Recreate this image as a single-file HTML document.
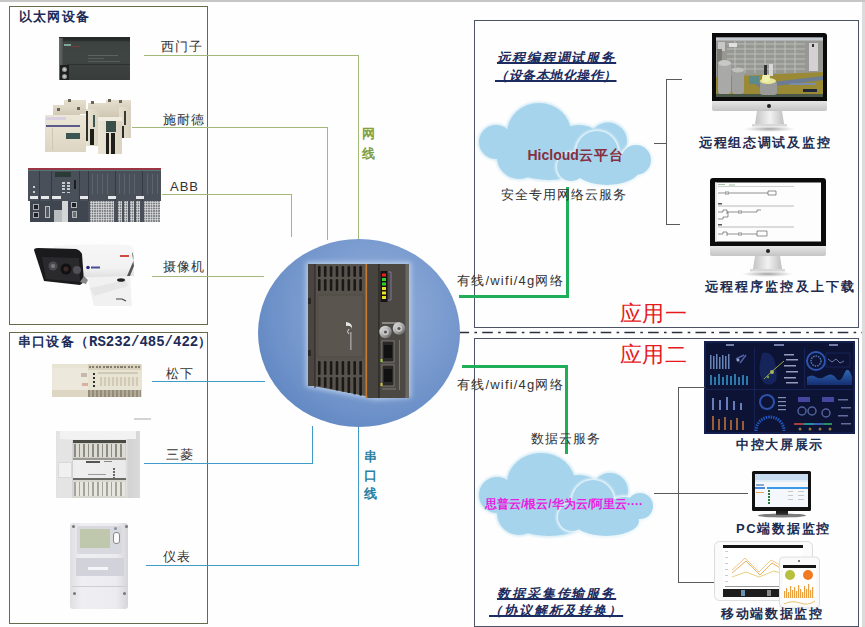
<!DOCTYPE html>
<html><head><meta charset="utf-8">
<style>
html,body{margin:0;padding:0;}
body{width:865px;height:627px;position:relative;overflow:hidden;background:#fefefe;font-family:"Liberation Sans",sans-serif;}
.a{position:absolute;}
.hl{position:absolute;height:1px;}
.vl{position:absolute;width:1px;}
.g{background:#a2b97a;}
.b{background:#3f9cc8;}
.k{background:#5a5a5a;}
.gg{background:#1fae5a;}
.box{position:absolute;box-sizing:border-box;}
.lbl{position:absolute;font-size:13px;color:#333;letter-spacing:1px;white-space:nowrap;line-height:14px;}
.ttl{position:absolute;font-size:13px;font-weight:bold;color:#1c2c58;white-space:nowrap;line-height:14px;letter-spacing:1.2px;}
.cap{position:absolute;font-size:13px;font-weight:bold;color:#1c2c50;white-space:nowrap;line-height:15px;letter-spacing:1.7px;}
.it{position:absolute;font-size:13px;font-weight:bold;font-style:italic;color:#1c2c60;white-space:nowrap;line-height:15px;text-decoration:underline;text-decoration-thickness:1.5px;text-underline-offset:0px;}
.red{position:absolute;font-size:22px;color:#e61a1e;white-space:nowrap;line-height:22px;font-family:"Liberation Serif",serif;}
</style></head><body>
<!-- top gray band & right stripe -->
<div class="a" style="left:0;top:0;width:865px;height:2px;background:#c6c6c6"></div>
<div class="a" style="left:862px;top:2px;width:3px;height:625px;background:#dcdcdc"></div>

<!-- left boxes -->
<div class="box" style="left:9px;top:6px;width:199px;height:319px;border:1.5px solid #646c4c"></div>
<div class="box" style="left:9px;top:332px;width:199px;height:292px;border:1.5px solid #646c4c"></div>
<div class="ttl"  style="left:19px;top:10px;">以太网设备</div>
<div class="ttl" style="left:18px;top:334.5px;">串口设备（<span style="font-family:'Liberation Mono',monospace;font-size:14px;letter-spacing:0">RS232/485/422</span>）</div>

<!-- right boxes -->
<div class="box" style="left:474px;top:20px;width:384.8px;height:307.5px;border:1.5px solid #4a5464"></div>
<div class="box" style="left:474px;top:338px;width:384.8px;height:289px;border:1.5px solid #4a5464"></div>
<svg class="a" style="left:0;top:0" width="865" height="627">
<line x1="458.5" y1="332.5" x2="862" y2="332.5" stroke="#2a3040" stroke-width="1.6" stroke-dasharray="10.6 5.3 2.6 5.2"/>
</svg>


<!-- ===== Siemens PLC ===== -->
<div class="a" style="left:59px;top:37px;width:71px;height:43px;background:linear-gradient(#262a29 0,#262a29 3px,#3d4341 5px,#3f4543 50%,#383d3c 100%);"></div>
<div class="a" style="left:59px;top:38px;width:4px;height:42px;background:linear-gradient(90deg,#6a6f6d,#4a4f4d)"></div>
<div class="a" style="left:64px;top:43.5px;width:7px;height:2px;background:#7fa59a"></div>
<div class="a" style="left:72px;top:46px;width:8px;height:1px;background:#7a3a3a"></div>
<div class="a" style="left:88px;top:55px;width:30px;height:1px;background:#5d6361"></div>
<div class="a" style="left:88px;top:58px;width:16px;height:1px;background:#565c5a"></div>
<div class="a" style="left:88px;top:61px;width:32px;height:1px;background:#565c5a"></div>
<div class="a" style="left:67px;top:64px;width:63px;height:1px;background:#2e3332"></div>
<div class="a" style="left:60px;top:65px;width:9px;height:15px;background:#1c1f1e"></div>
<div class="a" style="left:61.5px;top:67px;width:5px;height:5px;border-radius:50%;background:radial-gradient(#cfd2d0,#6a6e6c)"></div>
<div class="a" style="left:61.5px;top:73.5px;width:5px;height:5px;border-radius:50%;background:radial-gradient(#cfd2d0,#6a6e6c)"></div>

<!-- ===== Schneider modules ===== -->
<div class="a" style="left:64px;top:100px;width:22px;height:14px;background:linear-gradient(#e6dfcf,#d3cab7)"></div>
<div class="a" style="left:88px;top:103px;width:22px;height:12px;background:linear-gradient(#e4ddcc,#d0c7b4)"></div>
<div class="a" style="left:106px;top:100px;width:14px;height:12px;background:linear-gradient(#e6dfcf,#d6cdba)"></div>
<div class="a" style="left:116px;top:100px;width:15px;height:10px;background:linear-gradient(#e6dfcf,#d6cdba)"></div>
<div class="a" style="left:53px;top:105px;width:27px;height:12px;background:linear-gradient(#e2dbca,#cfc6b2)"></div>
<div class="a" style="left:68px;top:99px;width:3px;height:3px;background:#6b6458"></div>
<div class="a" style="left:91px;top:101px;width:3px;height:3px;background:#6b6458"></div>
<div class="a" style="left:108px;top:99px;width:3px;height:3px;background:#6b6458"></div>
<div class="a" style="left:119px;top:100px;width:3px;height:3px;background:#6b6458"></div>
<div class="a" style="left:57px;top:108px;width:3px;height:3px;background:#6b6458"></div>
<div class="a" style="left:77px;top:107px;width:3px;height:3px;background:#6b6458"></div>
<div class="a" style="left:98px;top:108px;width:22px;height:10px;background:linear-gradient(#ddd5c3,#cdc4b0)"></div>
<div class="a" style="left:119px;top:107px;width:12px;height:31px;background:linear-gradient(90deg,#e6dfcf,#d8d0be)"></div>
<div class="a" style="left:124px;top:111px;width:2px;height:14px;background:#3a3a34"></div>
<div class="a" style="left:121px;top:126px;width:3px;height:12px;background:#2d2d28"></div>
<div class="a" style="left:86px;top:109px;width:13px;height:37px;background:linear-gradient(90deg,#e8e2d2,#dad2c0)"></div>
<div class="a" style="left:86px;top:111px;width:2px;height:30px;background:#2e2e2a"></div>
<div class="a" style="left:93px;top:115px;width:2px;height:12px;background:#3a5550"></div>
<div class="a" style="left:90px;top:129px;width:4px;height:16px;background:#1e1e1a"></div>
<div class="a" style="left:45px;top:115px;width:41px;height:37px;background:linear-gradient(#ece6d8 0,#e8e2d2 25%,#ddd5c3 100%);"></div>
<div class="a" style="left:46px;top:117px;width:20px;height:3px;background:#d8d0e0"></div>
<div class="a" style="left:46px;top:125px;width:34px;height:2px;background:#5b5a8a"></div>
<div class="a" style="left:52px;top:128px;width:1px;height:22px;background:#cfc7b4"></div>
<div class="a" style="left:66px;top:133px;width:14px;height:5.5px;background:#3a5552"></div>
<div class="a" style="left:98px;top:117px;width:24px;height:37px;background:linear-gradient(90deg,#ebe5d6,#dcd4c2);"></div>
<div class="a" style="left:98px;top:117px;width:24px;height:4px;background:#f0ebdf"></div>
<div class="a" style="left:106px;top:121px;width:10px;height:11px;background:#3a4e4a"></div>
<div class="a" style="left:106px;top:133px;width:3px;height:21px;background:#1e1e1a"></div>
<div class="a" style="left:111px;top:133px;width:3.5px;height:21px;background:#1e1e1a"></div>

<!-- ===== ABB ===== -->
<div class="a" style="left:28px;top:168px;width:133px;height:2px;background:#9c3446"></div>
<div class="a" style="left:28px;top:170px;width:133px;height:1px;background:#4a7a70"></div>
<div class="a" style="left:28px;top:171px;width:133px;height:30px;background:#4a505a"></div>
<div class="a" style="left:39px;top:171px;width:1px;height:30px;background:#353a42"></div>
<div class="a" style="left:51px;top:171px;width:1px;height:30px;background:#353a42"></div>
<div class="a" style="left:79px;top:171px;width:1px;height:30px;background:#353a42"></div>
<div class="a" style="left:88px;top:171px;width:1px;height:51px;background:#353a42"></div>
<div class="a" style="left:115px;top:171px;width:1px;height:51px;background:#353a42"></div>
<div class="a" style="left:142px;top:171px;width:1px;height:51px;background:#353a42"></div>
<div class="a" style="left:55px;top:172px;width:16px;height:5px;background:#2a3a36"></div>
<div class="a" style="left:62px;top:182px;width:8px;height:12px;background:repeating-linear-gradient(#c8ccd2 0 1.5px,#4a505a 1.5px 3.2px);"></div>
<div class="a" style="left:65px;top:182px;width:2px;height:12px;background:#4a505a"></div>
<div class="a" style="left:74px;top:180px;width:2px;height:9px;background:#1a1d22"></div>
<div class="a" style="left:30px;top:196px;width:8px;height:3px;background:#e6e8ea"></div>
<div class="a" style="left:41px;top:196px;width:8px;height:3px;background:#e6e8ea"></div>
<div class="a" style="left:52px;top:196px;width:9px;height:3px;background:#e6e8ea"></div>
<div class="a" style="left:80px;top:196px;width:8px;height:3px;background:#e6e8ea"></div>
<div class="a" style="left:108px;top:196px;width:8px;height:3px;background:#e6e8ea"></div>
<div class="a" style="left:136px;top:196px;width:8px;height:3px;background:#e6e8ea"></div>
<div class="a" style="left:33px;top:186px;width:2px;height:2px;background:#c8ccd0"></div>
<div class="a" style="left:33px;top:191px;width:2px;height:2px;background:#c8ccd0"></div>
<div class="a" style="left:92px;top:174px;width:1px;height:20px;background:#5e646e"></div>
<div class="a" style="left:97px;top:174px;width:1px;height:20px;background:#5e646e"></div>
<div class="a" style="left:102px;top:174px;width:1px;height:20px;background:#5e646e"></div>
<div class="a" style="left:107px;top:174px;width:1px;height:20px;background:#5e646e"></div>
<div class="a" style="left:119px;top:174px;width:1px;height:20px;background:#5e646e"></div>
<div class="a" style="left:124px;top:174px;width:1px;height:20px;background:#5e646e"></div>
<div class="a" style="left:129px;top:174px;width:1px;height:20px;background:#5e646e"></div>
<div class="a" style="left:134px;top:174px;width:1px;height:20px;background:#5e646e"></div>
<div class="a" style="left:147px;top:174px;width:1px;height:20px;background:#5e646e"></div>
<div class="a" style="left:152px;top:174px;width:1px;height:20px;background:#5e646e"></div>
<div class="a" style="left:157px;top:174px;width:1px;height:20px;background:#5e646e"></div>
<div class="a" style="left:30px;top:201px;width:58px;height:21px;background:#40464f"></div>
<div class="a" style="left:33px;top:204px;width:6px;height:6px;background:#1e2126;border:1px solid #a8acb0;box-sizing:border-box"></div>
<div class="a" style="left:33px;top:212px;width:6px;height:6px;background:#1e2126;border:1px solid #a8acb0;box-sizing:border-box"></div>
<div class="a" style="left:45px;top:206px;width:5px;height:12px;background:#555a60;border:1px solid #b8bcbe;box-sizing:border-box"></div>
<div class="a" style="left:54px;top:210px;width:8px;height:12px;background:#b8bcbe"></div>
<div class="a" style="left:62px;top:201px;width:6px;height:21px;background:#d4d6d8"></div>
<div class="a" style="left:71px;top:202px;width:6px;height:6px;background:#1e2126;border:1px solid #b0b4b8;box-sizing:border-box"></div>
<div class="a" style="left:72px;top:211px;width:5px;height:7px;background:#6a6e72;border:1px solid #b0b4b8;box-sizing:border-box"></div>
<div class="a" style="left:88px;top:201px;width:72px;height:21px;background:#4a505a"></div>
<div class="a" style="left:90px;top:201px;width:24px;height:21px;background:radial-gradient(circle,#e0e0e0 0 0.8px,#6d7278 1.2px) 0 0/2.5px 2.5px"></div>
<div class="a" style="left:118px;top:201px;width:4px;height:21px;background:radial-gradient(circle,#e0e0e0 0 0.8px,#6d7278 1.2px) 0 0/2.5px 2.5px"></div>
<div class="a" style="left:124px;top:201px;width:4px;height:21px;background:radial-gradient(circle,#e0e0e0 0 0.8px,#6d7278 1.2px) 0 0/2.5px 2.5px"></div>
<div class="a" style="left:130px;top:201px;width:4px;height:21px;background:radial-gradient(circle,#e0e0e0 0 0.8px,#6d7278 1.2px) 0 0/2.5px 2.5px"></div>
<div class="a" style="left:136px;top:201px;width:4px;height:21px;background:radial-gradient(circle,#e0e0e0 0 0.8px,#6d7278 1.2px) 0 0/2.5px 2.5px"></div>
<div class="a" style="left:144px;top:201px;width:16px;height:21px;background:radial-gradient(circle,#e0e0e0 0 0.8px,#6d7278 1.2px) 0 0/2.5px 2.5px"></div>

<!-- ===== Camera ===== -->
<svg class="a" style="left:30px;top:240px" width="110" height="70">
<defs>
<linearGradient id="cb" x1="0" y1="0" x2="0" y2="1"><stop offset="0" stop-color="#f6f6f6"/><stop offset=".7" stop-color="#f2f2f2"/><stop offset="1" stop-color="#dedede"/></linearGradient>
</defs>
<path d="M58 36 L100 36 L102 66 L64 66 L60 50 Z" fill="#f1f1f1"/>
<path d="M60 48 L96 40 L98 46 L64 56 Z" fill="#e6e6e6"/>
<path d="M24 6 Q60 3 98 5 Q104 6 104 12 L104 36 L26 38 Z" fill="url(#cb)"/>
<path d="M102 12 Q104 14 103 22 L97 36 L100 36 L104 26 Z" fill="#555"/>
<path d="M4 10 Q4 8 8 8 L46 9 Q50 10 52 14 L54 42 L50 45 L14 41 Z" fill="#1a1a1c"/>
<path d="M12 17 L49 18 L50 42 L16 39 Z" fill="#2a2a2d"/>
<circle cx="23" cy="26" r="4.5" fill="#4a4a50"/>
<circle cx="23" cy="26" r="2" fill="#7a7a80"/>
<circle cx="36" cy="29" r="5.5" fill="#111113"/>
<circle cx="36" cy="29" r="2.5" fill="#3a2828"/>
<circle cx="47" cy="30" r="4" fill="#505056"/>
<path d="M50 42 L56 44 L58 40 L54 36 Z" fill="#888"/>
<circle cx="58" cy="27.5" r="1.8" fill="#2a2a80"/>
<rect x="61" y="26.5" width="9" height="2" fill="#4a4a9a"/>
<rect x="90" y="15" width="9" height="2" fill="#d04848"/>
<ellipse cx="91" cy="40" rx="4" ry="1.8" fill="#222"/>
<path d="M86 59 l6 0 l4 2" stroke="#444" stroke-width="1.2" fill="none"/>
</svg>
<!-- ===== Panasonic PLC ===== -->
<div class="a" style="left:52px;top:364px;width:90px;height:33px;background:#e8e4d3"></div>
<div class="a" style="left:52px;top:368px;width:36px;height:22px;background:#ece9dc"></div>
<div class="a" style="left:88px;top:364px;width:53px;height:6px;background:#d6d0bc"></div>
<div class="a" style="left:89px;top:366px;width:51px;height:2px;background:repeating-linear-gradient(90deg,#857c6c 0 2px,#d6d0bc 2px 3.5px)"></div>
<div class="a" style="left:88px;top:390px;width:53px;height:7px;background:repeating-linear-gradient(90deg,#948c7a 0 2.5px,#b4ac98 2.5px 4px)"></div>
<div class="a" style="left:52px;top:390px;width:36px;height:7px;background:#dcd6c2"></div>
<div class="a" style="left:93px;top:373px;width:2px;height:15px;background:repeating-linear-gradient(#2e2e2a 0 2px,#e8e4d3 2px 4px)"></div>
<div class="a" style="left:81px;top:373px;width:6px;height:4px;background:#c8b8b0"></div>
<div class="a" style="left:82px;top:383px;width:6px;height:3px;background:#d8b0a0"></div>
<div class="a" style="left:98px;top:372px;width:40px;height:2px;background:#cfc9b5"></div>
<div class="a" style="left:100px;top:377px;width:38px;height:9px;background:repeating-linear-gradient(90deg,#d0cab7 0 2px,#e6e1cf 2px 4px)"></div>
<div class="a" style="left:134px;top:418px;width:17px;height:1.5px;background:#d4d4d4"></div>

<!-- ===== Mitsubishi PLC ===== -->
<div class="a" style="left:56px;top:431px;width:84px;height:67px;background:linear-gradient(90deg,#e2e2e2,#efefef 25%,#eaeaea 82%,#d2d2d2 86%,#dadada);"></div>
<div class="a" style="left:60px;top:431px;width:76px;height:8px;background:#f2f2f2"></div>
<div class="a" style="left:57px;top:440px;width:15px;height:58px;background:#e4e4e4;border-right:1px solid #d2d2d2"></div>
<div class="a" style="left:58px;top:462px;width:12px;height:14px;background:#f0f0f0;border:1px solid #d8d8d8"></div>
<div class="a" style="left:73px;top:440px;width:53px;height:20px;background:#cfcfc8"></div>
<div class="a" style="left:74px;top:444px;width:51px;height:13px;background:repeating-linear-gradient(90deg,#8c8b84 0 1.5px,#dcdbd4 1.5px 4.6px)"></div>
<div class="a" style="left:73px;top:440px;width:53px;height:3px;background:#4a4a44"></div>
<div class="a" style="left:73px;top:458px;width:53px;height:2px;background:#9a9a92"></div>
<div class="a" style="left:86px;top:461px;width:14px;height:2px;background:#555"></div>
<div class="a" style="left:104px;top:461px;width:8px;height:1px;background:#888"></div>
<div class="a" style="left:113px;top:468px;width:2px;height:10px;background:repeating-linear-gradient(#666 0 1.5px,#eee 1.5px 3px)"></div>
<div class="a" style="left:88px;top:474px;width:18px;height:1px;background:#999"></div>
<div class="a" style="left:73px;top:478px;width:53px;height:20px;background:#d8d8d0"></div>
<div class="a" style="left:73px;top:478px;width:53px;height:2px;background:#6a6a64"></div>
<div class="a" style="left:74px;top:482px;width:51px;height:14px;background:repeating-linear-gradient(90deg,#a4a39c 0 1.5px,#e6e5de 1.5px 4.6px)"></div>

<!-- ===== Meter ===== -->
<div class="a" style="left:70px;top:523px;width:58px;height:86px;border-radius:3px;background:linear-gradient(90deg,#dfdfe3,#efeff2 20%,#ececf0 80%,#d6d6da);"></div>
<div class="a" style="left:77px;top:526px;width:45px;height:28px;background:#d8d9df;border-radius:2px"></div>
<div class="a" style="left:80px;top:529px;width:30px;height:19px;background:#bfc7ac"></div>
<div class="a" style="left:113px;top:532px;width:5px;height:10px;border-radius:3px;background:#fafafa;border:1px solid #888"></div>
<div class="a" style="left:114px;top:527px;width:3px;height:3px;border-radius:50%;background:#8a90a8"></div>
<div class="a" style="left:76px;top:558px;width:48px;height:18px;background:#d2d3da"></div>
<div class="a" style="left:88px;top:567px;width:20px;height:3px;background:#f6f6f8"></div>
<div class="a" style="left:72px;top:586px;width:54px;height:1px;background:#cdcdd2"></div>
<div class="a" style="left:73px;top:592px;width:3px;height:3px;border-radius:50%;background:#777"></div>
<div class="a" style="left:123px;top:592px;width:3px;height:3px;border-radius:50%;background:#777"></div>
<div class="a" style="left:72px;top:525px;width:3px;height:3px;border-radius:50%;background:#777"></div>
<div class="a" style="left:125px;top:525px;width:3px;height:3px;border-radius:50%;background:#777"></div>

<!-- ethernet lines -->
<div class="hl g" style="left:144px;top:55px;width:215px"></div>
<div class="vl g" style="left:358px;top:55px;height:185px"></div>
<div class="hl g" style="left:132px;top:127px;width:196px"></div>
<div class="vl g" style="left:327px;top:127px;height:113px"></div>
<div class="hl g" style="left:162px;top:194px;width:130px"></div>
<div class="vl g" style="left:291px;top:194px;height:43px"></div>
<div class="hl g" style="left:152px;top:276px;width:112px"></div>
<!-- serial lines -->
<div class="hl b" style="left:152px;top:381px;width:113px"></div>
<div class="hl b" style="left:144px;top:463px;width:169px"></div>
<div class="vl b" style="left:312px;top:426px;height:38px"></div>
<div class="hl b" style="left:146px;top:565px;width:213px"></div>
<div class="vl b" style="left:358px;top:426px;height:140px"></div>

<div class="lbl" style="left:161px;top:40px;">西门子</div>
<div class="lbl" style="left:163px;top:113px;">施耐德</div>
<div class="lbl" style="left:170px;top:180px;">ABB</div>
<div class="lbl" style="left:163px;top:260px;">摄像机</div>
<div class="lbl" style="left:166px;top:367px;">松下</div>
<div class="lbl" style="left:166px;top:448px;">三菱</div>
<div class="lbl" style="left:163px;top:550px;">仪表</div>

<div class="a" style="left:362px;top:124px;width:16px;font-size:13px;line-height:19.6px;font-weight:bold;color:#7fa040">网<br>线</div>
<div class="a" style="left:364px;top:448px;width:16px;font-size:13px;line-height:18.5px;font-weight:bold;color:#2a80a0">串<br>口<br>线</div>

<!-- circle -->
<div class="a" style="left:258px;top:239px;width:202px;height:188px;border-radius:50%;background:radial-gradient(ellipse 70% 75% at 58% 38%,#92b0dc 0%,#80a0d2 40%,#6c90c8 75%,#5c84c0 100%);"></div>


<!-- ===== Gateway device ===== -->
<svg class="a" style="left:296px;top:252px" width="124" height="156">
<defs>
<filter id="glow" x="-20%" y="-20%" width="140%" height="140%"><feGaussianBlur stdDeviation="2.5"/></filter>
<linearGradient id="bnc" x1="0" y1="0" x2="1" y2="1"><stop offset="0" stop-color="#f0f0f0"/><stop offset=".5" stop-color="#a8a8a8"/><stop offset="1" stop-color="#5a5a5a"/></linearGradient>
<pattern id="vent" x="0" y="0" width="5.6" height="13" patternUnits="userSpaceOnUse">
<rect x="1.5" y="1" width="2.4" height="5" rx="1" fill="#1b1917"/>
<rect x="1.5" y="7" width="2.4" height="5" rx="1" fill="#1b1917"/>
</pattern>
</defs>
<path d="M10 10 L115 10 L115 146 L80 148 L10 135 Z" fill="#cfdff2" opacity=".7" filter="url(#glow)"/>
<!-- body -->
<path d="M12 12 L113 12 L113 144 L80 146 L12 133 Z" fill="#57524c"/>
<rect x="12" y="12" width="7" height="122" fill="#4a4540"/>
<rect x="18.5" y="12" width="1" height="124" fill="#2a2724"/>
<rect x="12" y="46" width="3" height="6" fill="#2a2724"/>
<rect x="12" y="98" width="3" height="6" fill="#2a2724"/>
<rect x="22.0" y="14" width="2.6" height="11" rx="1.2" fill="#1b1917"/>
<rect x="22.0" y="27" width="2.6" height="12" rx="1.2" fill="#1b1917"/>
<rect x="22.0" y="109" width="2.6" height="14" rx="1.2" fill="#1b1917"/>
<rect x="22.0" y="125" width="2.6" height="9.3" rx="1.2" fill="#1b1917"/>
<rect x="27.9" y="14" width="2.6" height="11" rx="1.2" fill="#1b1917"/>
<rect x="27.9" y="27" width="2.6" height="12" rx="1.2" fill="#1b1917"/>
<rect x="27.9" y="109" width="2.6" height="14" rx="1.2" fill="#1b1917"/>
<rect x="27.9" y="125" width="2.6" height="10.7" rx="1.2" fill="#1b1917"/>
<rect x="33.8" y="14" width="2.6" height="11" rx="1.2" fill="#1b1917"/>
<rect x="33.8" y="27" width="2.6" height="12" rx="1.2" fill="#1b1917"/>
<rect x="33.8" y="109" width="2.6" height="14" rx="1.2" fill="#1b1917"/>
<rect x="33.8" y="125" width="2.6" height="12.0" rx="1.2" fill="#1b1917"/>
<rect x="39.7" y="14" width="2.6" height="11" rx="1.2" fill="#1b1917"/>
<rect x="39.7" y="27" width="2.6" height="12" rx="1.2" fill="#1b1917"/>
<rect x="39.7" y="109" width="2.6" height="14" rx="1.2" fill="#1b1917"/>
<rect x="39.7" y="125" width="2.6" height="13.4" rx="1.2" fill="#1b1917"/>
<rect x="45.6" y="14" width="2.6" height="11" rx="1.2" fill="#1b1917"/>
<rect x="45.6" y="27" width="2.6" height="12" rx="1.2" fill="#1b1917"/>
<rect x="45.6" y="109" width="2.6" height="14" rx="1.2" fill="#1b1917"/>
<rect x="45.6" y="125" width="2.6" height="14.8" rx="1.2" fill="#1b1917"/>
<rect x="51.5" y="14" width="2.6" height="11" rx="1.2" fill="#1b1917"/>
<rect x="51.5" y="27" width="2.6" height="12" rx="1.2" fill="#1b1917"/>
<rect x="51.5" y="109" width="2.6" height="14" rx="1.2" fill="#1b1917"/>
<rect x="51.5" y="125" width="2.6" height="16.1" rx="1.2" fill="#1b1917"/>
<rect x="57.4" y="14" width="2.6" height="11" rx="1.2" fill="#1b1917"/>
<rect x="57.4" y="27" width="2.6" height="12" rx="1.2" fill="#1b1917"/>
<rect x="57.4" y="109" width="2.6" height="14" rx="1.2" fill="#1b1917"/>
<rect x="57.4" y="125" width="2.6" height="17.5" rx="1.2" fill="#1b1917"/>
<rect x="63.3" y="14" width="2.6" height="11" rx="1.2" fill="#1b1917"/>
<rect x="63.3" y="27" width="2.6" height="12" rx="1.2" fill="#1b1917"/>
<rect x="63.3" y="109" width="2.6" height="14" rx="1.2" fill="#1b1917"/>
<rect x="63.3" y="125" width="2.6" height="18.8" rx="1.2" fill="#1b1917"/>
<rect x="22" y="43" width="45" height="62" fill="#5a554f" stroke="#4e4a45" stroke-width="0.8"/>
<path d="M50 70 q7 1 6 7 q-1 -4 -6 -3 z" fill="#e8e8e8"/>
<path d="M53 77 q-3 3 0 5" stroke="#ddd" stroke-width="1" fill="none"/>
<rect x="54" y="80" width="1.6" height="18" fill="#b8b8b8" opacity=".7"/>
<!-- orange stripe -->
<rect x="69.5" y="12" width="1.8" height="134" fill="#c77a2e"/>
<rect x="71.3" y="12" width="12" height="134" fill="#47433f"/>
<rect x="82.5" y="12" width="1.2" height="134" fill="#1f1d1b"/>
<rect x="83.7" y="12" width="26" height="134" fill="#4c4844"/>
<rect x="109.5" y="12" width="3.5" height="134" fill="#6a6661"/>
<!-- LEDs -->
<rect x="84.5" y="19" width="7" height="31" fill="#151413"/>
<rect x="86" y="21.5" width="4" height="3" fill="#e82020"/>
<rect x="86" y="26" width="4" height="3" fill="#30d030"/>
<rect x="86" y="30.5" width="4" height="3" fill="#30d030"/>
<rect x="86" y="35" width="4" height="3" fill="#e8e020"/>
<rect x="86" y="39.5" width="4" height="3" fill="#e8e020"/>
<rect x="86" y="44" width="4" height="3" fill="#e8e020"/>
<path d="M92 20 h3 v28 h-3" fill="none" stroke="#8a84b0" stroke-width=".8"/>
<!-- BNC -->
<rect x="86" y="70" width="18" height="2" fill="#8a8680"/>
<circle cx="89.5" cy="80" r="6.2" fill="url(#bnc)"/>
<circle cx="89.5" cy="80" r="3.2" fill="#c8c8c8"/>
<circle cx="89.5" cy="80" r="1.6" fill="#555"/>
<circle cx="103" cy="76.5" r="6.2" fill="url(#bnc)"/>
<circle cx="103" cy="76.5" r="3.2" fill="#c8c8c8"/>
<circle cx="103" cy="76.5" r="1.6" fill="#555"/>
<!-- RJ45 -->
<rect x="86" y="89" width="12" height="21" fill="#2a2826" stroke="#8a8680" stroke-width=".8"/>
<rect x="88" y="93" width="8" height="13" fill="#111"/>
<rect x="86" y="113" width="12" height="21" fill="#2a2826" stroke="#8a8680" stroke-width=".8"/>
<rect x="88" y="117" width="8" height="13" fill="#111"/>
<rect x="84.5" y="107" width="2" height="3" fill="#9ad030"/>
<rect x="84.5" y="131" width="2" height="3" fill="#d0c030"/>
<path d="M86 137 h14" stroke="#8a8680" stroke-width=".8"/>
<rect x="103" y="88" width="1" height="50" fill="#7a7670"/>
</svg>


<!-- ===== Clouds ===== -->
<svg class="a" style="left:474px;top:95px" width="190" height="100">
<defs><filter id="cf1" x="-10%" y="-10%" width="120%" height="120%"><feGaussianBlur stdDeviation="1.2"/></filter></defs>
<g fill="none" stroke="#d4ebf6" stroke-width="3" filter="url(#cf1)">
<circle cx="22" cy="47" r="17"/>
<ellipse cx="65" cy="38" rx="32" ry="30"/>
<circle cx="45" cy="62" r="22"/>
<ellipse cx="105" cy="52" rx="26" ry="22"/>
<ellipse cx="134" cy="46" rx="19" ry="18.5"/>
<ellipse cx="75" cy="66" rx="40" ry="19"/>
</g>
<g fill="#a5d4ec">
<circle cx="22" cy="47" r="17"/>
<ellipse cx="65" cy="38" rx="32" ry="30"/>
<circle cx="45" cy="62" r="22"/>
<ellipse cx="105" cy="52" rx="26" ry="22"/>
<ellipse cx="134" cy="46" rx="19" ry="18.5"/>
<ellipse cx="75" cy="66" rx="40" ry="19"/>
</g>
<g fill="none" stroke="#eaf5fb" stroke-width="3.5" filter="url(#cf1)">
<circle cx="123" cy="57" r="21"/>
<circle cx="162" cy="65" r="15"/>
<ellipse cx="133" cy="75" rx="32" ry="15"/>
<circle cx="97" cy="72" r="14"/>
</g>
<g fill="#a5d4ec">
<circle cx="123" cy="57" r="21"/>
<circle cx="162" cy="65" r="15"/>
<ellipse cx="133" cy="75" rx="32" ry="15"/>
<circle cx="97" cy="72" r="14"/>
</g>
</svg>
<div class="a" style="left:527.5px;top:147px;font-size:14px;font-weight:bold;color:#843040;white-space:nowrap;line-height:16px;">Hicloud<span style="letter-spacing:1.3px">云平台</span></div>
<svg class="a" style="left:474px;top:445px" width="190" height="100">
<defs><filter id="cf2" x="-10%" y="-10%" width="120%" height="120%"><feGaussianBlur stdDeviation="1.2"/></filter></defs>
<g fill="none" stroke="#d4ebf6" stroke-width="3" filter="url(#cf2)">
<circle cx="23" cy="50" r="18"/>
<ellipse cx="67" cy="38" rx="34" ry="30"/>
<circle cx="45" cy="68" r="22"/>
<ellipse cx="105" cy="52" rx="26" ry="22"/>
<ellipse cx="136" cy="46" rx="18" ry="18"/>
<ellipse cx="75" cy="72" rx="40" ry="19"/>
</g>
<g fill="#a5d4ec">
<circle cx="23" cy="50" r="18"/>
<ellipse cx="67" cy="38" rx="34" ry="30"/>
<circle cx="45" cy="68" r="22"/>
<ellipse cx="105" cy="52" rx="26" ry="22"/>
<ellipse cx="136" cy="46" rx="18" ry="18"/>
<ellipse cx="75" cy="72" rx="40" ry="19"/>
</g>
<g fill="none" stroke="#eaf5fb" stroke-width="3.5" filter="url(#cf2)">
<circle cx="119" cy="56" r="21"/>
<circle cx="166" cy="61" r="13"/>
<ellipse cx="132" cy="76" rx="33" ry="15"/>
<circle cx="98" cy="72" r="14"/>
<ellipse cx="150" cy="66" rx="18" ry="14"/>
</g>
<g fill="#a5d4ec">
<circle cx="119" cy="56" r="21"/>
<circle cx="166" cy="61" r="13"/>
<ellipse cx="132" cy="76" rx="33" ry="15"/>
<circle cx="98" cy="72" r="14"/>
<ellipse cx="150" cy="66" rx="18" ry="14"/>
</g>
</svg>
<div class="a" style="left:485px;top:495.5px;font-size:12px;font-weight:bold;color:#e81ee0;white-space:nowrap;line-height:16px;">思普云/根云/华为云/阿里云····</div>

<!-- ===== iMac 1 ===== -->
<svg class="a" style="left:705px;top:28px" width="130" height="108">
<defs>
<linearGradient id="chin" x1="0" y1="0" x2="0" y2="1"><stop offset="0" stop-color="#e6e6e6"/><stop offset="1" stop-color="#c4c4c4"/></linearGradient>
<linearGradient id="stand" x1="0" y1="0" x2="1" y2="0"><stop offset="0" stop-color="#bdbdbd"/><stop offset=".5" stop-color="#f2f2f2"/><stop offset="1" stop-color="#b5b5b5"/></linearGradient>
<radialGradient id="shad"><stop offset="0" stop-color="#777" stop-opacity=".7"/><stop offset="1" stop-color="#999" stop-opacity="0"/></radialGradient>
</defs>
<ellipse cx="64.5" cy="101" rx="26" ry="3" fill="url(#shad)"/>
<path d="M52 83 L77 83 L79 96 L82 98 L48 98 L50 96 Z" fill="url(#stand)"/>
<rect x="47" y="96" width="35" height="2.5" fill="#d8d8d8"/>
<path d="M7 5 Q7 5 10 5 L119 5 Q122 5 122 8 L122 73 L7 73 Z" fill="#0b0b0b"/>
<path d="M7 73 L122 73 L122 81 Q122 83 120 83 L9 83 Q7 83 7 81 Z" fill="url(#chin)"/>
<circle cx="64" cy="78" r="2" fill="#222"/>
<rect x="11" y="9.5" width="107" height="59.5" fill="#979893"/>
<rect x="11" y="9.5" width="107" height="3" fill="#c6ccd2"/>
<g stroke="#c4c6c0" stroke-width=".8">
<line x1="22" y1="16" x2="100" y2="16"/><line x1="22" y1="21" x2="100" y2="21"/><line x1="22" y1="26" x2="100" y2="26"/><line x1="22" y1="31" x2="100" y2="31"/><line x1="22" y1="36" x2="100" y2="36"/><line x1="22" y1="41" x2="100" y2="41"/>
<line x1="30" y1="13" x2="30" y2="45"/><line x1="40" y1="13" x2="40" y2="45"/><line x1="50" y1="13" x2="50" y2="45"/><line x1="60" y1="13" x2="60" y2="45"/><line x1="70" y1="13" x2="70" y2="45"/><line x1="80" y1="13" x2="80" y2="45"/><line x1="90" y1="13" x2="90" y2="45"/>
</g>
<rect x="13" y="14" width="7" height="9" fill="#c8c8c8"/>
<rect x="24" y="15" width="8" height="4" fill="#e0e0e0"/>
<path d="M11 49 L118 44 L118 66 L11 66 Z" fill="#9a8a36"/>
<path d="M50 56 L118 48 L118 52 L55 60 Z" fill="#6c7c94"/>
<rect x="11" y="66" width="107" height="3" fill="#4a5848"/>
<rect x="12" y="21" width="5" height="45" fill="#7a7a70"/>
<rect x="13" y="35" width="13" height="31" rx="3" fill="#a9a9a7"/>
<ellipse cx="19.5" cy="35" rx="6.5" ry="3" fill="#c8c8c6"/>
<rect x="27" y="42" width="12" height="24" rx="3" fill="#a0a09e"/>
<ellipse cx="33" cy="42" rx="6" ry="2.5" fill="#c0c0be"/>
<rect x="44" y="48" width="10" height="8" fill="#5a8a8a"/>
<rect x="55" y="53" width="17" height="14" rx="3" fill="#9a9a98"/>
<ellipse cx="63" cy="53" rx="8" ry="3" fill="#e8e89a"/>
<ellipse cx="61" cy="50" rx="4" ry="4" fill="#f0f0b0"/>
<rect x="59" y="37" width="3" height="10" fill="#303030"/>
<rect x="64" y="36" width="4" height="12" fill="#d8d8d8"/>
<rect x="104" y="15" width="9" height="28" fill="#d4d0d4"/>
<rect x="107" y="16" width="2" height="3" fill="#303030"/>
<rect x="85" y="55" width="26" height="2" fill="#7a8ca8"/>
<rect x="98" y="61" width="14" height="3" fill="#202838"/>
</svg>

<!-- ===== iMac 2 ===== -->
<svg class="a" style="left:705px;top:174px" width="130" height="106">
<defs>
<linearGradient id="chin2" x1="0" y1="0" x2="0" y2="1"><stop offset="0" stop-color="#e6e6e6"/><stop offset="1" stop-color="#c4c4c4"/></linearGradient>
</defs>
<ellipse cx="62.5" cy="100" rx="26" ry="3" fill="url(#shad)"/>
<path d="M50 82 L75 82 L77 95 L80 97 L46 97 L48 95 Z" fill="url(#stand)"/>
<rect x="45" y="95" width="35" height="2.5" fill="#d8d8d8"/>
<path d="M5 4 L118 4 Q121 4 121 7 L121 72 L5 72 L5 7 Q5 4 8 4 Z" fill="#0b0b0b"/>
<path d="M5 72 L121 72 L121 80 Q121 82 119 82 L7 82 Q5 82 5 80 Z" fill="url(#chin2)"/>
<circle cx="63" cy="77" r="2" fill="#222"/>
<rect x="10" y="8.5" width="106" height="59" fill="#fdfdfd"/>
<rect x="10" y="8.5" width="2" height="59" fill="#e8e8e8"/>
<g stroke="#4a4a4a" stroke-width=".6" fill="none">
<line x1="13" y1="12.5" x2="89" y2="12.5" stroke="#cfcfcf" stroke-width="1.2"/>
<line x1="13" y1="10.5" x2="20" y2="10.5" stroke="#6a9a6a"/><line x1="24" y1="11" x2="30" y2="11" stroke="#6a9a6a"/>
<path d="M13 19 h8 M21 17 v4 M23 17 v4 M23 19 h40 v-2 h8 v4 h-8 v-2"/>
<line x1="13" y1="32" x2="89" y2="32" stroke="#cfcfcf" stroke-width="1.3"/>
<path d="M13 38 h5 v-2 h4 v4 M22 38 h12 M34 36 v4 M36 36 v4 M36 38 h16 v-2 h4"/>
<path d="M13 45 h5 v-2 h5 M23 43 v-5"/>
<line x1="13" y1="53" x2="89" y2="53" stroke="#cfcfcf" stroke-width="1.3"/>
<path d="M13 60 h5 v-2 h4 v4 M22 60 h12 M34 58 v4 M36 58 v4 M36 60 h16 v-3 h10 v5 h-10 v-2"/>
</g>
<rect x="13" y="29" width="4" height="1.5" fill="#555"/>
<rect x="13" y="50" width="4" height="1.5" fill="#555"/>
</svg>

<!-- ===== Dashboard ===== -->
<svg class="a" style="left:704px;top:341px" width="151" height="93">
<defs>
<linearGradient id="wave" x1="0" y1="0" x2="0" y2="1"><stop offset="0" stop-color="#3a8ae8"/><stop offset="1" stop-color="#1a3a8a"/></linearGradient>
</defs>
<rect x="0" y="0" width="151" height="93" fill="#0d1335"/>
<rect x="1" y="1" width="149" height="91" fill="none" stroke="#1c2c6a" stroke-width="1"/>
<g opacity=".72">
<rect x="22" y="3" width="8" height="2" fill="#9aa8d0"/>
<rect x="70" y="3" width="10" height="2" fill="#9aa8d0"/>
<rect x="125" y="3" width="9" height="2" fill="#9aa8d0"/>
<rect x="2" y="48" width="147" height="1" fill="#1c2860"/>
<rect x="50" y="7" width="1" height="83" fill="#1c2860"/>
<rect x="100" y="7" width="1" height="40" fill="#1c2860"/>
<g fill="#8ab0e8">
<rect x="6" y="14" width="1.5" height="14"/><rect x="9" y="15" width="1.5" height="13"/><rect x="12" y="13" width="1.5" height="15"/><rect x="15" y="16" width="1.5" height="12"/><rect x="18" y="14" width="1.5" height="14"/><rect x="21" y="15" width="1.5" height="13"/><rect x="24" y="13" width="1.5" height="15"/>
</g>
<g fill="#3aa0d8">
<rect x="6" y="34" width="2" height="10"/><rect x="10" y="36" width="2" height="8"/><rect x="14" y="33" width="2" height="11"/><rect x="18" y="36" width="2" height="8"/><rect x="22" y="34" width="2" height="10"/><rect x="26" y="35" width="2" height="9"/><rect x="30" y="33" width="2" height="11"/><rect x="34" y="36" width="2" height="8"/><rect x="38" y="34" width="2" height="10"/><rect x="42" y="35" width="2" height="9"/>
</g>
<path d="M32 18 l8 -4 M36 22 l6 -8" stroke="#6a80d0" stroke-width="1.5"/>
<circle cx="34" cy="19" r="1.5" fill="#d0e0ff"/>
<path d="M58 12 Q66 10 70 18 Q74 30 72 40 Q66 46 60 42 Q54 34 56 22 Z" fill="#1a3070" opacity=".9"/>
<path d="M60 38 Q68 30 80 20" stroke="#c8e040" stroke-width="1" fill="none"/>
<circle cx="68" cy="31" r="2" fill="#e8f060"/>
<circle cx="64" cy="36" r="1.2" fill="#a0d040"/>
<g fill="#c8d0f0"><rect x="80" y="13" width="10" height="1.5"/><rect x="82" y="18" width="12" height="1.5"/><rect x="80" y="24" width="12" height="1.5"/><rect x="82" y="30" width="12" height="1.5"/><rect x="80" y="36" width="12" height="1.5"/><rect x="82" y="41" width="12" height="1.5"/></g>
<circle cx="112" cy="20" r="9" fill="none" stroke="#3a70e0" stroke-width="2"/>
<circle cx="112" cy="20" r="5" fill="none" stroke="#6aa0f0" stroke-width="1.5" stroke-dasharray="1.5 1"/>
<path d="M124 18 l4 3 l4 -3 l4 4 l4 -2" stroke="#8aa0e0" stroke-width="1" fill="none"/>
<rect x="122" y="12" width="24" height="14" fill="none" stroke="#2a3a80" stroke-width=".6"/>
<path d="M103 44 L103 36 Q108 33 112 36 T122 35 T132 37 T140 33 T148 36 L148 44 Z" fill="url(#wave)"/>
<g fill="#8aa8f0"><rect x="8" y="57" width="2" height="12"/><rect x="15" y="59" width="2" height="10"/><rect x="22" y="56" width="2" height="13"/><rect x="29" y="60" width="2" height="9"/><rect x="36" y="62" width="2" height="7"/></g>
<g fill="#d07a3a"><rect x="8" y="75" width="2" height="14"/><rect x="14" y="78" width="2" height="11"/><rect x="20" y="76" width="2" height="13"/><rect x="26" y="79" width="2" height="10"/><rect x="32" y="77" width="2" height="12"/><rect x="38" y="80" width="2" height="9"/></g>
<circle cx="63" cy="61" r="7" fill="none" stroke="#3a6ad8" stroke-width="2"/>
<path d="M52 90 A14 14 0 0 1 80 90" fill="none" stroke="#2a70f0" stroke-width="3" stroke-dasharray="1.5 1"/>
<g fill="#b0c0e8"><rect x="74" y="56" width="8" height="1.2"/><rect x="74" y="60" width="8" height="1.2"/><rect x="74" y="64" width="8" height="1.2"/><rect x="74" y="68" width="8" height="1.2"/></g>
<rect x="94" y="56" width="12" height="5" fill="#5a5ac8"/>
<rect x="118" y="56" width="12" height="5" fill="#5a5ac8"/>
<circle cx="98" cy="70" r="4" fill="none" stroke="#6a80c0" stroke-width="1.5"/>
<circle cx="108" cy="70" r="4" fill="none" stroke="#6a80c0" stroke-width="1.5"/>
<circle cx="122" cy="72" r="4" fill="none" stroke="#6a80c0" stroke-width="1.5"/>
<rect x="90" y="82" width="10" height="2" fill="#e05040"/><rect x="100" y="82" width="10" height="2" fill="#30c0c0"/><rect x="110" y="82" width="10" height="2" fill="#4a80e0"/><rect x="120" y="82" width="8" height="2" fill="#30c070"/>
<g fill="#c0a040"><circle cx="96" cy="88" r="1.5"/><circle cx="106" cy="88" r="1.5"/><circle cx="116" cy="88" r="1.5"/><circle cx="126" cy="88" r="1.5"/></g>
<g fill="#8090c0"><rect x="134" y="58" width="10" height="1.5"/><rect x="137" y="66" width="10" height="1.5"/><rect x="134" y="74" width="10" height="1.5"/><rect x="137" y="82" width="10" height="1.5"/></g>
</g>
</svg>

<!-- ===== PC monitor ===== -->
<svg class="a" style="left:750px;top:469px" width="64" height="50">
<rect x="2" y="2" width="59" height="40" rx="1.5" fill="#111"/>
<rect x="5" y="5" width="53" height="33" fill="#f4f8fc"/>
<rect x="5" y="5" width="53" height="6" fill="#c8dcf0"/>
<rect x="5" y="11" width="53" height="2" fill="#e0ecf8"/>
<rect x="6" y="15" width="8" height="2" fill="#90a8c8"/>
<rect x="5" y="18" width="10" height="2" fill="#4a8ad8"/>
<rect x="17" y="18" width="41" height="2" fill="#3a9ae8"/>
<g fill="#2a7a3a"><rect x="18" y="21" width="2" height="2"/><rect x="18" y="24" width="2" height="2"/><rect x="18" y="27" width="2" height="2"/><rect x="18" y="30" width="2" height="2"/><rect x="18" y="33" width="2" height="2"/></g>
<g fill="#c8c8c8"><rect x="38" y="22" width="5" height="1"/><rect x="48" y="22" width="6" height="1"/><rect x="38" y="26" width="5" height="1"/><rect x="48" y="26" width="6" height="1"/><rect x="38" y="30" width="5" height="1"/><rect x="48" y="30" width="6" height="1"/></g>
<rect x="6" y="23" width="8" height="1" fill="#e8a060"/>
<rect x="26" y="42" width="12" height="4" fill="#222"/>
<ellipse cx="32" cy="46.5" rx="24" ry="2" fill="#444" opacity=".7"/>
</svg>

<!-- ===== Tablet & phone ===== -->
<svg class="a" style="left:712px;top:539px" width="112" height="72">
<rect x="2.5" y="2.5" width="98" height="59" rx="5" fill="#fbfbfb" stroke="#dcdcdc" stroke-width="1"/>
<rect x="11" y="6" width="80" height="3" fill="#151515"/>
<rect x="11" y="9" width="80" height="41" fill="#fff"/>
<g fill="none" stroke-width="1">
<path d="M20 34 L34 22 L48 36 L60 24 L75 33" stroke="#e8b060"/>
<path d="M20 31 L33 19 L47 33 L59 21 L75 30" stroke="#f0c890"/>
<path d="M20 38 L34 33 L47 38 L62 32 L75 36" stroke="#e8d080"/>
</g>
<g fill="#ccc"><rect x="13" y="12" width="3" height="1"/><rect x="13" y="18" width="3" height="1"/><rect x="13" y="24" width="3" height="1"/><rect x="13" y="30" width="3" height="1"/><rect x="13" y="36" width="3" height="1"/><rect x="13" y="42" width="3" height="1"/></g>
<g fill="#999"><rect x="13" y="47" width="60" height="1"/></g>
<rect x="11" y="50" width="80" height="8" fill="#1c1c1c"/>
<rect x="29" y="51" width="4" height="6" fill="#6a90b0"/>
<rect x="55" y="51" width="4" height="6" fill="#888"/>
<rect x="67.5" y="18" width="40" height="51" rx="4" fill="#fafafa" stroke="#dedede" stroke-width="1"/>
<circle cx="87" cy="22" r="1" fill="#555"/>
<rect x="71" y="26" width="33" height="3" fill="#151515"/>
<rect x="71" y="29" width="33" height="37" fill="#fff"/>
<circle cx="78" cy="36" r="5" fill="#b8c040"/>
<circle cx="96" cy="36" r="5" fill="#f07a20"/>
<g fill="#e8a040">
<rect x="72" y="52" width="1.2" height="7"/><rect x="74" y="49" width="1.2" height="10"/><rect x="76" y="53" width="1.2" height="6"/><rect x="78" y="47" width="1.2" height="12"/><rect x="80" y="51" width="1.2" height="8"/><rect x="82" y="48" width="1.2" height="11"/><rect x="84" y="52" width="1.2" height="7"/><rect x="86" y="46" width="1.2" height="13"/><rect x="88" y="50" width="1.2" height="9"/><rect x="90" y="53" width="1.2" height="6"/><rect x="92" y="47" width="1.2" height="12"/><rect x="94" y="50" width="1.2" height="9"/><rect x="96" y="45" width="1.2" height="14"/><rect x="98" y="51" width="1.2" height="8"/><rect x="100" y="48" width="1.2" height="11"/>
</g>
<path d="M72 65 Q80 61 88 64 T103 62" stroke="#e8c070" fill="none"/>
</svg>


<!-- thick green lines -->
<div class="a gg" style="left:459px;top:295px;width:110px;height:3px"></div>
<div class="a gg" style="left:566px;top:187px;width:3px;height:111px"></div>
<div class="a gg" style="left:462px;top:365px;width:106px;height:3px"></div>
<div class="a gg" style="left:565px;top:365px;width:3px;height:89px"></div>
<div class="lbl" style="left:457px;top:274px;letter-spacing:1.2px;">有线/wifi/4g网络</div>
<div class="lbl" style="left:457px;top:378px;letter-spacing:1.2px;">有线/wifi/4g网络</div>

<!-- brackets -->
<div class="hl k" style="left:666px;top:79px;width:16px"></div>
<div class="vl k" style="left:666px;top:79px;height:146px"></div>
<div class="hl k" style="left:666px;top:224px;width:14px"></div>
<div class="hl k" style="left:654px;top:143px;width:12px"></div>

<div class="hl k" style="left:678px;top:387px;width:27px"></div>
<div class="vl k" style="left:678px;top:387px;height:196px"></div>
<div class="hl k" style="left:678px;top:582px;width:36px"></div>
<div class="hl k" style="left:654px;top:493px;width:94px"></div>

<div class="it" style="left:497px;top:49.5px;letter-spacing:1.9px;">远程编程调试服务</div>
<div class="it" style="left:495px;top:68px;letter-spacing:0.5px;">（设备本地化操作）</div>
<div class="it" style="left:497px;top:586px;letter-spacing:1.9px;">数据采集传输服务</div>
<div class="it" style="left:489px;top:602.5px;letter-spacing:1.9px;">（协议解析及转换）</div>

<div class="lbl" style="left:501px;top:188px;">安全专用网络云服务</div>
<div class="lbl" style="left:531px;top:432px;">数据云服务</div>

<div class="red" style="left:619.5px;top:303px;letter-spacing:0.5px;font-weight:500;">应用一</div>
<div class="red" style="left:619.5px;top:343.5px;letter-spacing:0.5px;font-weight:500;">应用二</div>

<div class="cap" style="left:699px;top:135px;">远程组态调试及监控</div>
<div class="cap" style="left:705px;top:279px;letter-spacing:2.1px;">远程程序监控及上下载</div>
<div class="cap" style="left:736px;top:437px;">中控大屏展示</div>
<div class="cap" style="left:736px;top:521px;">PC端数据监控</div>
<div class="cap" style="left:721px;top:606px;">移动端数据监控</div>

</body></html>
